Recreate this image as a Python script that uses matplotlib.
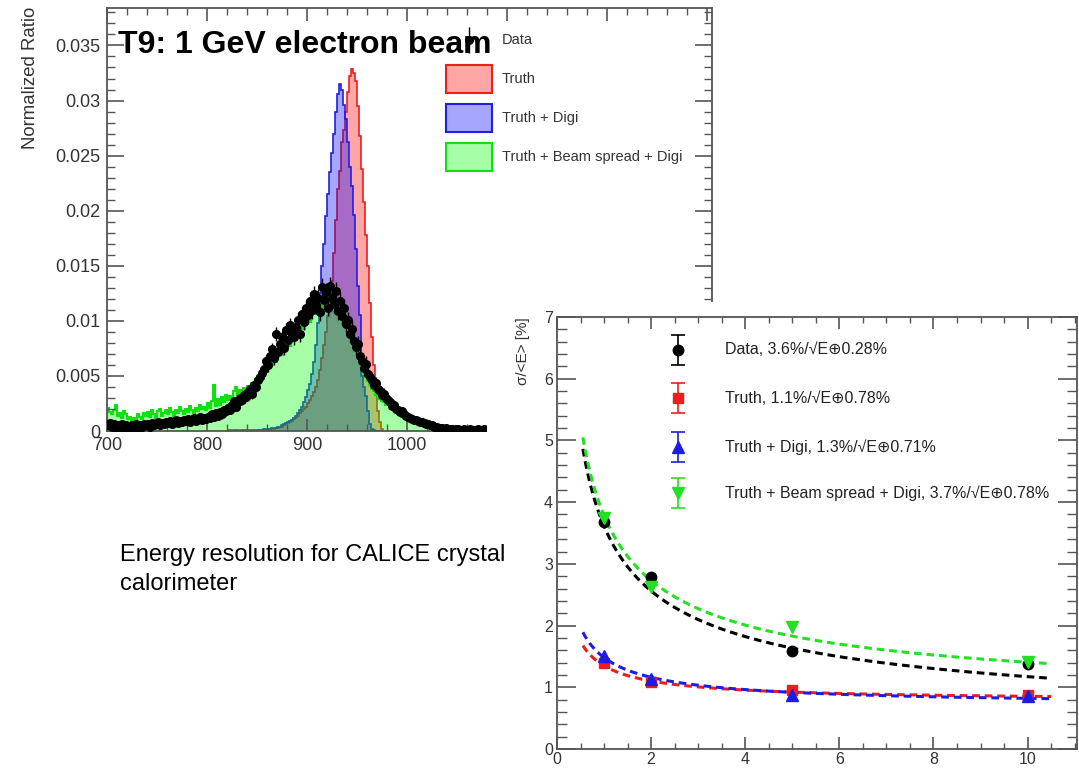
import numpy as np
import matplotlib
matplotlib.use("Agg")
import matplotlib.pyplot as plt
from matplotlib.patches import Patch, Rectangle
from matplotlib.container import ErrorbarContainer
from matplotlib.legend_handler import HandlerErrorbar
from matplotlib.ticker import MultipleLocator, FuncFormatter
from matplotlib.transforms import Affine2D

plt.rcParams["font.family"] = ["Liberation Sans", "DejaVu Sans"]

W, H = 1079, 769

# ---- energy spectrum, 2 MeV bins starting at 700 MeV ----
bin_lo = 700
bin_width = 2

# simulated peaks, bins starting at 820 MeV
peak_lo = 820
truth = [
    0.0000, 0.0000, 0.0000, 0.0000, 0.0000, 0.0000, 0.0000, 0.0000, 0.0000, 0.0000,
    0.0000, 0.0000, 0.0000, 0.0000, 0.0000,
    0.0000, 0.0001, 0.0001, 0.0001, 0.0001, 0.0001, 0.0002, 0.0002, 0.0002, 0.0003,
    0.0003, 0.0004, 0.0004, 0.0005, 0.0006, 0.0007, 0.0008, 0.0009, 0.0011, 0.0012,
    0.0014, 0.0016, 0.0018, 0.0020, 0.0022, 0.0025, 0.0028, 0.0032, 0.0035, 0.0040,
    0.0046, 0.0055, 0.0066, 0.0078, 0.0090, 0.0104, 0.0118, 0.0136, 0.0162, 0.0192,
    0.0220, 0.0236, 0.0262, 0.0273, 0.0290, 0.0308, 0.0322, 0.0329, 0.0325, 0.0318,
    0.0295, 0.0268, 0.0238, 0.0208, 0.0178, 0.0150, 0.0116, 0.0085, 0.0060, 0.0038,
    0.0018, 0.0008, 0.0002,
]
truth_digi = [
    0.0000, 0.0001, 0.0000, 0.0001, 0.0001, 0.0001, 0.0000, 0.0001, 0.0001, 0.0001,
    0.0001, 0.0001, 0.0001, 0.0001, 0.0001,
    0.0001, 0.0001, 0.0001, 0.0002, 0.0002, 0.0002, 0.0002, 0.0003, 0.0003, 0.0003,
    0.0004, 0.0004, 0.0005, 0.0006, 0.0007, 0.0008, 0.0009, 0.0010, 0.0012, 0.0014,
    0.0016, 0.0019, 0.0022, 0.0026, 0.0031, 0.0037, 0.0043, 0.0052, 0.0063, 0.0078,
    0.0098, 0.0125, 0.0150, 0.0170, 0.0195, 0.0215, 0.0235, 0.0252, 0.0270, 0.0290,
    0.0306, 0.0315, 0.0310, 0.0296, 0.0283, 0.0262, 0.0240, 0.0222, 0.0196, 0.0165,
    0.0132, 0.0105, 0.0050, 0.0040, 0.0032, 0.0018, 0.0006, 0.0002, 0.0001, 0.0000,
    0.0000, 0.0000, 0.0000,
]

# full range 700-1080 MeV
beam_digi = [
    0.0021, 0.0017, 0.0015, 0.0019, 0.0024, 0.0014, 0.0016, 0.0012, 0.0018, 0.0015,
    0.0011, 0.0013, 0.0009, 0.0012, 0.0010, 0.0015, 0.0013, 0.0011, 0.0016, 0.0014,
    0.0017, 0.0013, 0.0019, 0.0015, 0.0012, 0.0018, 0.0020, 0.0014, 0.0016, 0.0019,
    0.0015, 0.0021, 0.0017, 0.0014, 0.0019, 0.0016, 0.0022, 0.0018, 0.0015, 0.0020,
    0.0017, 0.0023, 0.0019, 0.0016, 0.0021, 0.0018, 0.0024, 0.0020, 0.0022, 0.0019,
    0.0025, 0.0021, 0.0027, 0.0042, 0.0023, 0.0029, 0.0024, 0.0031, 0.0026, 0.0033,
    0.0028, 0.0032, 0.0030, 0.0036, 0.0040, 0.0033, 0.0037, 0.0034, 0.0039, 0.0036,
    0.0041, 0.0038, 0.0044, 0.0042, 0.0047, 0.0050, 0.0048, 0.0055, 0.0058, 0.0061,
    0.0057, 0.0062, 0.0060, 0.0065, 0.0063, 0.0068, 0.0071, 0.0069, 0.0074, 0.0076,
    0.0079, 0.0077, 0.0083, 0.0086, 0.0084, 0.0089, 0.0091, 0.0094, 0.0093, 0.0098,
    0.0101, 0.0099, 0.0105, 0.0108, 0.0106, 0.0111, 0.0114, 0.0112, 0.0117, 0.0120,
    0.0118, 0.0121, 0.0116, 0.0113, 0.0110, 0.0107, 0.0104, 0.0101, 0.0097, 0.0094,
    0.0090, 0.0086, 0.0081, 0.0077, 0.0072, 0.0068, 0.0063, 0.0058, 0.0053, 0.0049,
    0.0045, 0.0042, 0.0038, 0.0036, 0.0033, 0.0031, 0.0029, 0.0027, 0.0026, 0.0024,
    0.0025, 0.0022, 0.0023, 0.0020, 0.0022, 0.0019, 0.0018, 0.0017, 0.0016, 0.0015,
    0.0015, 0.0013, 0.0014, 0.0012, 0.0011, 0.0012, 0.0010, 0.0011, 0.0009, 0.0010,
    0.0009, 0.0008, 0.0008, 0.0007, 0.0006, 0.0006, 0.0005, 0.0005, 0.0004, 0.0004,
    0.0003, 0.0003, 0.0003, 0.0002, 0.0002, 0.0002, 0.0002, 0.0001, 0.0001, 0.0001,
    0.0001, 0.0001, 0.0001, 0.0001, 0.0001, 0.0001, 0.0000, 0.0001, 0.0000, 0.0000,
]
data = [
    0.0005, 0.0007, 0.0004, 0.0006, 0.0003, 0.0005, 0.0004, 0.0006, 0.0003, 0.0005,
    0.0004, 0.0003, 0.0005, 0.0004, 0.0006, 0.0003, 0.0005, 0.0004, 0.0006, 0.0005,
    0.0006, 0.0004, 0.0007, 0.0005, 0.0006, 0.0008, 0.0005, 0.0007, 0.0006, 0.0008,
    0.0007, 0.0009, 0.0006, 0.0008, 0.0010, 0.0007, 0.0009, 0.0008, 0.0010, 0.0009,
    0.0011, 0.0008, 0.0010, 0.0012, 0.0009, 0.0011, 0.0013, 0.0010, 0.0012, 0.0011,
    0.0013, 0.0012, 0.0015, 0.0013, 0.0016, 0.0014, 0.0017, 0.0015, 0.0019, 0.0018,
    0.0021, 0.0019, 0.0024, 0.0027, 0.0022, 0.0026, 0.0030, 0.0028, 0.0033, 0.0031,
    0.0035, 0.0038, 0.0034, 0.0042, 0.0040, 0.0046, 0.0049, 0.0053, 0.0056, 0.0064,
    0.0060, 0.0068, 0.0074, 0.0066, 0.0088, 0.0072, 0.0079, 0.0085, 0.0075, 0.0092,
    0.0083, 0.0096, 0.0089, 0.0085, 0.0094, 0.0101, 0.0088, 0.0106, 0.0099, 0.0112,
    0.0105, 0.0118, 0.0110, 0.0124, 0.0114, 0.0121, 0.0108, 0.0131, 0.0119, 0.0126,
    0.0112, 0.0132, 0.0121, 0.0115, 0.0127, 0.0109, 0.0118, 0.0104, 0.0112, 0.0097,
    0.0101, 0.0088, 0.0093, 0.0082, 0.0076, 0.0079, 0.0068, 0.0064, 0.0057, 0.0061,
    0.0052, 0.0049, 0.0046, 0.0042, 0.0044, 0.0038, 0.0036, 0.0033, 0.0034, 0.0030,
    0.0028, 0.0026, 0.0023, 0.0024, 0.0020, 0.0019, 0.0017, 0.0018, 0.0015, 0.0014,
    0.0013, 0.0012, 0.0011, 0.0010, 0.0010, 0.0009, 0.0008, 0.0008, 0.0007, 0.0006,
    0.0006, 0.0005, 0.0005, 0.0004, 0.0004, 0.0003, 0.0003, 0.0003, 0.0002, 0.0003,
    0.0002, 0.0002, 0.0002, 0.0001, 0.0002, 0.0002, 0.0001, 0.0001, 0.0002, 0.0001,
    0.0001, 0.0002, 0.0001, 0.0001, 0.0001, 0.0002, 0.0001, 0.0001, 0.0002, 0.0001,
]
data_err = [
    0.0003, 0.0003, 0.0003, 0.0003, 0.0003, 0.0003, 0.0003, 0.0003, 0.0003, 0.0003,
    0.0003, 0.0003, 0.0003, 0.0003, 0.0003, 0.0003, 0.0003, 0.0003, 0.0003, 0.0003,
    0.0003, 0.0003, 0.0003, 0.0003, 0.0003, 0.0003, 0.0003, 0.0003, 0.0003, 0.0003,
    0.0003, 0.0003, 0.0003, 0.0003, 0.0003, 0.0003, 0.0003, 0.0003, 0.0003, 0.0003,
    0.0003, 0.0003, 0.0003, 0.0003, 0.0003, 0.0003, 0.0003, 0.0003, 0.0003, 0.0003,
    0.0004, 0.0004, 0.0004, 0.0004, 0.0004, 0.0004, 0.0004, 0.0004, 0.0004, 0.0004,
    0.0004, 0.0004, 0.0004, 0.0004, 0.0004, 0.0004, 0.0004, 0.0004, 0.0004, 0.0004,
    0.0005, 0.0005, 0.0005, 0.0005, 0.0005, 0.0005, 0.0005, 0.0005, 0.0005, 0.0005,
    0.0006, 0.0006, 0.0006, 0.0006, 0.0006, 0.0006, 0.0006, 0.0006, 0.0006, 0.0006,
    0.0007, 0.0007, 0.0007, 0.0007, 0.0007, 0.0007, 0.0007, 0.0007, 0.0007, 0.0007,
    0.0008, 0.0008, 0.0008, 0.0008, 0.0008, 0.0008, 0.0008, 0.0008, 0.0008, 0.0008,
    0.0008, 0.0008, 0.0008, 0.0008, 0.0008, 0.0008, 0.0008, 0.0008, 0.0008, 0.0008,
    0.0007, 0.0007, 0.0007, 0.0007, 0.0007, 0.0007, 0.0007, 0.0007, 0.0007, 0.0007,
    0.0005, 0.0005, 0.0005, 0.0005, 0.0005, 0.0005, 0.0005, 0.0005, 0.0005, 0.0005,
    0.0004, 0.0004, 0.0004, 0.0004, 0.0004, 0.0004, 0.0004, 0.0004, 0.0004, 0.0004,
    0.0003, 0.0003, 0.0003, 0.0003, 0.0003, 0.0003, 0.0003, 0.0003, 0.0003, 0.0003,
    0.0003, 0.0003, 0.0003, 0.0003, 0.0003, 0.0003, 0.0003, 0.0003, 0.0003, 0.0003,
    0.0002, 0.0002, 0.0002, 0.0002, 0.0002, 0.0002, 0.0002, 0.0002, 0.0002, 0.0002,
    0.0002, 0.0002, 0.0002, 0.0002, 0.0002, 0.0002, 0.0002, 0.0002, 0.0002, 0.0002,
]

# ---- energy resolution vs beam energy ----
beam_energy = [1, 2, 5, 10]
res_data = [3.68, 2.79, 1.59, 1.38]
res_truth = [1.40, 1.09, 0.95, 0.88]
res_digi = [1.50, 1.14, 0.87, 0.86]
res_beam = [3.74, 2.63, 1.97, 1.41]

# stochastic term a [%] and constant term b [%] of the fits
fit_stoch = [3.6, 1.1, 1.3, 3.7]
fit_const = [0.28, 0.78, 0.71, 0.78]
fit_labels = [
    "Data, 3.6%/\u221aE\u22950.28%",
    "Truth, 1.1%/\u221aE\u22950.78%",
    "Truth + Digi, 1.3%/\u221aE\u22950.71%",
    "Truth + Beam spread + Digi, 3.7%/\u221aE\u22950.78%",
]

AXIS_GREY = "#555555"
TEXT_GREY = "#333333"


def px_rect(left, top, right, bottom):
    return [left / W, 1 - bottom / H, (right - left) / W, (bottom - top) / H]


class CentredErrorbar(HandlerErrorbar):
    """Error-bar legend key centred on the row, like the patch keys."""

    def create_artists(self, legend, orig_handle, xdescent, ydescent,
                       width, height, fontsize, trans):
        trans = Affine2D().translate(0, -ydescent / 2) + trans
        return super().create_artists(legend, orig_handle, xdescent, ydescent,
                                      width, height, fontsize, trans)


fig = plt.figure(figsize=(W / 100, H / 100), dpi=100)

# ---------------- spectrum panel ----------------
ax1 = fig.add_axes(px_rect(107, 8, 712, 431))
ax1.set_zorder(0)

edges = bin_lo + bin_width * np.arange(len(data) + 1)
centers = edges[:-1] + bin_width / 2
peak_edges = peak_lo + bin_width * np.arange(len(truth) + 1)

ax1.stairs(truth, peak_edges, fill=True, facecolor="red", alpha=0.35, lw=0)
ax1.stairs(truth, peak_edges, color="#e82020", lw=1.2)
ax1.stairs(truth_digi, peak_edges, fill=True, facecolor="blue", alpha=0.35, lw=0)
ax1.stairs(truth_digi, peak_edges, color="#2020e0", lw=1.2)
ax1.stairs(beam_digi, edges, fill=True, facecolor="#00ff00", alpha=0.35, lw=0)
ax1.stairs(beam_digi, edges, color="#10e010", lw=1.5)

eb = ax1.errorbar(centers, data, yerr=data_err, fmt="o", color="black",
                  ms=5.5, elinewidth=1.0, capsize=0, zorder=5)

ax1.set_xlim(700, 1305)
ax1.set_ylim(0, 0.0384)
ax1.xaxis.set_major_locator(MultipleLocator(100))
ax1.xaxis.set_minor_locator(MultipleLocator(20))
ax1.yaxis.set_major_locator(MultipleLocator(0.005))
ax1.yaxis.set_minor_locator(MultipleLocator(0.001))
ax1.yaxis.set_major_formatter(FuncFormatter(lambda v, p: f"{v:g}"))
ax1.tick_params(which="both", direction="in", top=True, right=True,
                colors=AXIS_GREY, labelcolor=TEXT_GREY, labelsize=13)
ax1.tick_params(axis="y", which="major", length=12, width=1.2, pad=5)
ax1.tick_params(axis="y", which="minor", length=6, width=1.0)
ax1.tick_params(axis="x", which="major", length=9, width=1.2, pad=4)
ax1.tick_params(axis="x", which="minor", length=5, width=1.0)
for sp in ax1.spines.values():
    sp.set_color(AXIS_GREY)
    sp.set_linewidth(1.3)

spec_handles = [
    eb,
    Patch(facecolor=(1, 0, 0, 0.35), edgecolor="#e82020", lw=1.5),
    Patch(facecolor=(0, 0, 1, 0.35), edgecolor="#2020e0", lw=1.5),
    Patch(facecolor=(0, 1, 0, 0.35), edgecolor="#10e010", lw=1.5),
]
spec_labels = ["Data", "Truth", "Truth + Digi", "Truth + Beam spread + Digi"]
ax1.legend(spec_handles, spec_labels, loc="upper left",
           bbox_to_anchor=(446 / W, 1 - 26 / H), bbox_transform=fig.transFigure,
           frameon=False, fontsize=10.5, handlelength=3.15, handleheight=2.58,
           labelspacing=0.75, handletextpad=0.69, borderpad=0, borderaxespad=0,
           labelcolor=TEXT_GREY,
           handler_map={ErrorbarContainer: CentredErrorbar(yerr_size=0.86)})

fig.text(31 / W, 1 - 7 / H, "Normalized Ratio", rotation=90, ha="center",
         va="top", fontsize=13.4, color=TEXT_GREY)
fig.text(118 / W, 1 - 53 / H, "T9: 1 GeV electron beam", fontsize=23,
         fontweight="bold", va="baseline", color="black")

# white backing for the resolution panel
fig.add_artist(Rectangle((487 / W, 0), 1 - 487 / W, (H - 302) / H,
                         transform=fig.transFigure, facecolor="white",
                         edgecolor="none", zorder=1))

# ---------------- resolution panel ----------------
ax2 = fig.add_axes(px_rect(557, 317, 1077, 749))
ax2.set_zorder(2)

e_fine = np.linspace(0.55, 10.5, 200)
fit_colors = ["black", "#ee1c1c", "#1c1ce6", "#22e022"]
for a, b, c in zip(fit_stoch, fit_const, fit_colors):
    ax2.plot(e_fine, np.hypot(a / np.sqrt(e_fine), b), ls=(0, (2.5, 1.6)),
             color=c, lw=2.2)

series = [
    (res_data, "o", "black", 7.5),
    (res_truth, "s", "#ee1c1c", 7),
    (res_digi, "^", "#1c1ce6", 8),
    (res_beam, "v", "#22e022", 8),
]
for vals, m, c, ms in series:
    ax2.plot(beam_energy, vals, ls="none", marker=m, color=c, ms=ms, zorder=4)

ax2.xaxis.set_major_locator(MultipleLocator(2))
ax2.xaxis.set_minor_locator(MultipleLocator(0.5))
ax2.yaxis.set_major_locator(MultipleLocator(1))
ax2.yaxis.set_minor_locator(MultipleLocator(0.2))
ax2.tick_params(which="both", direction="in", top=True, right=True,
                colors=AXIS_GREY, labelcolor=TEXT_GREY, labelsize=11.5)
ax2.tick_params(axis="y", which="major", length=13.5, width=1.2, pad=3)
ax2.tick_params(axis="y", which="minor", length=7, width=1.0)
ax2.tick_params(axis="x", which="major", length=8.5, width=1.2, pad=2.5)
ax2.tick_params(axis="x", which="minor", length=4.5, width=1.0)
for sp in ax2.spines.values():
    sp.set_color(AXIS_GREY)
    sp.set_linewidth(1.3)

# legend keys with error bars
key_x, text_x = 0.233, 0.323
rows_y = [0.924, 0.812, 0.699, 0.593]
for (vals, m, c, ms), lbl, y in zip(series, fit_labels, rows_y):
    ax2.errorbar([key_x], [y], yerr=[0.035], fmt=m, color=c, ms=ms,
                 capsize=5, elinewidth=1.2, capthick=1.2,
                 transform=ax2.transAxes, clip_on=False, zorder=5)
    ax2.text(text_x, y, lbl, transform=ax2.transAxes, va="center",
             fontsize=11.5, color="#222222")

ax2.set_xlim(0, 11.05)
ax2.set_ylim(0, 7)

fig.text(523 / W, 1 - 317 / H, "\u03c3/<E> [%]", rotation=90, ha="center",
         va="top", fontsize=11, color=TEXT_GREY)

fig.text(120 / W, 1 - 561 / H, "Energy resolution for CALICE crystal",
         fontsize=17, va="baseline", color="black")
fig.text(120 / W, 1 - 590 / H, "calorimeter", fontsize=17, va="baseline",
         color="black")

fig.savefig("out.png", dpi=100)
